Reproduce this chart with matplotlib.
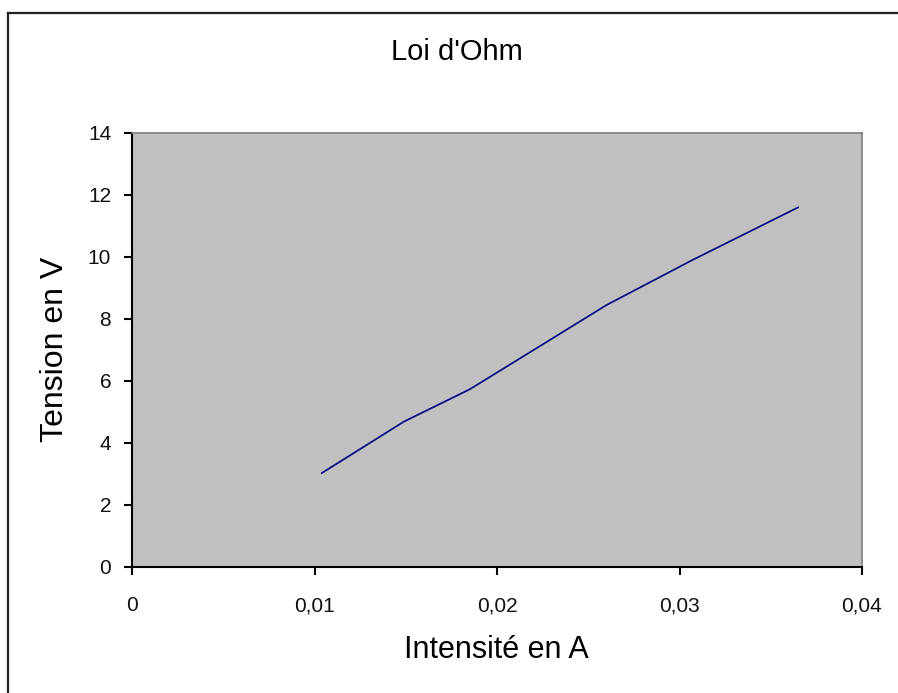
import matplotlib
matplotlib.use("Agg")
import matplotlib.pyplot as plt
from matplotlib.lines import Line2D
from matplotlib.ticker import FuncFormatter

intensite = [0.0104, 0.0149, 0.0185, 0.0222, 0.0260, 0.0307, 0.0365]
tension = [3.03, 4.69, 5.73, 7.07, 8.45, 9.90, 11.60]

x_ticks = [0, 0.01, 0.02, 0.03, 0.04]
y_ticks = [0, 2, 4, 6, 8, 10, 12, 14]

plt.rcParams["font.family"] = ["Liberation Sans", "DejaVu Sans"]

W, H = 898, 693
fig = plt.figure(figsize=(W / 100, H / 100), dpi=100)
fig.patch.set_facecolor("white")

# cadre du graphique (coupé à droite et en bas)
fig.add_artist(Line2D([8 / W, 8 / W], [0, 1 - 13 / H], transform=fig.transFigure,
                      color="#222222", lw=1.6))
fig.add_artist(Line2D([8 / W, 1], [1 - 13 / H, 1 - 13 / H], transform=fig.transFigure,
                      color="#222222", lw=1.6))

ax = fig.add_axes([132 / W, 1 - 567 / H, (862 - 132) / W, (567 - 133) / H])
ax.set_facecolor("#C0C0C0")
ax.plot(intensite, tension, color="#000080", lw=1.2)

ax.set_xlim(0, 0.04)
ax.set_ylim(0, 14)
ax.set_xticks(x_ticks)
ax.set_yticks(y_ticks)


def virgule(v, pos):
    if v == 0:
        return "0"
    return f"{v:.2f}".replace(".", ",")


ax.xaxis.set_major_formatter(FuncFormatter(virgule))
ax.tick_params(axis="both", direction="out", length=6, width=1.5, color="black",
               labelsize=15, labelcolor="#111111")
ax.tick_params(axis="x", pad=15)
ax.tick_params(axis="y", pad=9)

for s in ["top", "right"]:
    ax.spines[s].set_color("#808080")
    ax.spines[s].set_linewidth(1.2)
for s in ["left", "bottom"]:
    ax.spines[s].set_color("black")
    ax.spines[s].set_linewidth(1.5)

fig.text(457 / W, 1 - 52 / H, "Loi d'Ohm", ha="center", va="center", fontsize=21)
fig.text(496 / W, 1 - 650 / H, "Intensité en A", ha="center", va="center", fontsize=22)
fig.text(55 / W, 1 - 349 / H, "Tension en V", ha="center", va="center",
         rotation=90, fontsize=23)

fig.savefig("out.png", dpi=100)
